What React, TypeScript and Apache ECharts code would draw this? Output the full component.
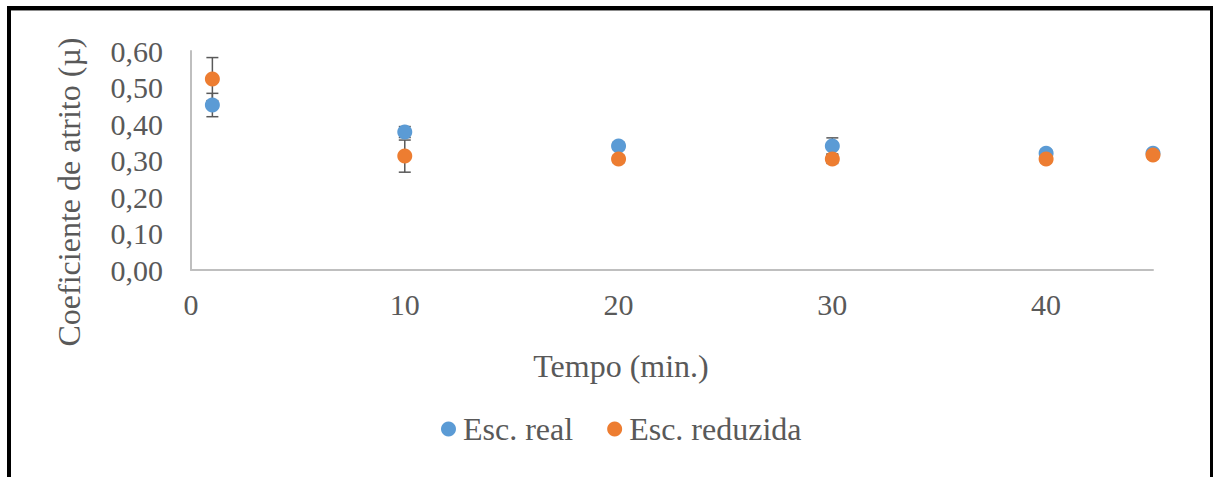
import React, { useEffect, useRef } from "react";
import * as echarts from "echarts";

const tempo = [1, 10, 20, 30, 40, 45];
const escReal = [0.452, 0.378, 0.34, 0.34, 0.32, 0.32];
const escRealErr = [0.032, 0.015, 0.01, 0.022, 0.01, 0.008];
const escReduzida = [0.523, 0.312, 0.304, 0.304, 0.304, 0.315];
const escReduzidaErr = [0.059, 0.044, 0.01, 0.012, 0.01, 0.01];
const seriesNames = ["Esc. real", "Esc. reduzida"];
const xTitle = "Tempo (min.)";
const yTitle = "Coeficiente de atrito (µ)";

const FONT = "'Liberation Serif', 'Times New Roman', serif";
const TXT = "#595959";
const BLUE = "#5b9bd5";
const ORANGE = "#ed7d31";

function errData(vals: number[], errs: number[]) {
  return tempo.map((t, i) => [t, vals[i] - errs[i], vals[i] + errs[i]]);
}

function errRender(params: any, api: any) {
  const x = api.value(0);
  const lo = api.coord([x, api.value(1)]);
  const hi = api.coord([x, api.value(2)]);
  const w = 6;
  const style = { stroke: "#595959", lineWidth: 1.5 };
  return {
    type: "group",
    children: [
      { type: "line", shape: { x1: lo[0], y1: lo[1], x2: hi[0], y2: hi[1] }, style },
      { type: "line", shape: { x1: lo[0] - w, y1: lo[1], x2: lo[0] + w, y2: lo[1] }, style },
      { type: "line", shape: { x1: hi[0] - w, y1: hi[1], x2: hi[0] + w, y2: hi[1] }, style },
    ],
  };
}

export default function App() {
  const ref = useRef<HTMLDivElement>(null);
  useEffect(() => {
    const chart = echarts.init(ref.current!, null, { renderer: "svg" });
    chart.setOption({
      animation: false,
      backgroundColor: "#ffffff",
      grid: { left: 191, right: 60, top: 51, bottom: 207, containLabel: false },
      xAxis: {
        type: "value",
        min: 0,
        max: 45,
        interval: 10,
        axisLine: { lineStyle: { color: "#bfbfbf", width: 2 } },
        axisTick: { show: false },
        splitLine: { show: false },
        axisLabel: {
          showMaxLabel: false,
          margin: 19,
          color: TXT,
          fontFamily: FONT,
          fontSize: 30,
        },
      },
      yAxis: {
        type: "value",
        min: 0,
        max: 0.6,
        interval: 0.1,
        axisLine: { show: true, lineStyle: { color: "#bfbfbf", width: 2 } },
        axisTick: { show: false },
        splitLine: { show: false },
        axisLabel: {
          margin: 28,
          color: TXT,
          fontFamily: FONT,
          fontSize: 30,
          formatter: (v: number) => v.toFixed(2).replace(".", ","),
        },
      },
      legend: {
        left: 436,
        top: 408,
        itemWidth: 15,
        itemHeight: 15,
        itemGap: 34,
        icon: "circle",
        textStyle: { color: TXT, fontFamily: FONT, fontSize: 32, padding: [0, 0, 0, 2] },
        data: seriesNames,
      },
      graphic: [
        { type: "rect", shape: { x: 7, y: 6, width: 1206, height: 4 }, style: { fill: "#000" } },
        { type: "rect", shape: { x: 11, y: 10, width: 1199, height: 1 }, style: { fill: "#8c8c8c" } },
        { type: "rect", shape: { x: 7, y: 6, width: 4, height: 471 }, style: { fill: "#000" } },
        { type: "rect", shape: { x: 1210, y: 6, width: 3, height: 471 }, style: { fill: "#000" } },
        {
          type: "text",
          x: 69,
          y: 192,
          rotation: Math.PI / 2,
          style: {
            text: yTitle,
            fill: TXT,
            font: `32px ${FONT}`,
            align: "center",
            verticalAlign: "middle",
          },
        },
        {
          type: "text",
          x: 621,
          y: 366,
          style: {
            text: xTitle,
            fill: TXT,
            font: `32px ${FONT}`,
            align: "center",
            verticalAlign: "middle",
          },
        },
      ],
      series: [
        {
          type: "custom",
          name: "errReal",
          renderItem: errRender,
          data: errData(escReal, escRealErr),
          z: 1,
          silent: true,
        },
        {
          type: "custom",
          name: "errRed",
          renderItem: errRender,
          data: errData(escReduzida, escReduzidaErr),
          z: 1,
          silent: true,
        },
        {
          type: "scatter",
          name: seriesNames[0],
          symbol: "circle",
          symbolSize: 15,
          itemStyle: { color: BLUE, opacity: 1 },
          data: tempo.map((t, i) => [t, escReal[i]]),
          z: 3,
        },
        {
          type: "scatter",
          name: seriesNames[1],
          symbol: "circle",
          symbolSize: 15,
          itemStyle: { color: ORANGE, opacity: 1 },
          data: tempo.map((t, i) => [t, escReduzida[i]]),
          z: 4,
        },
      ],
    });
    return () => chart.dispose();
  }, []);
  return (
    <div
      ref={ref}
      style={{ position: "absolute", left: 0, top: 0, width: 1213, height: 477 }}
    />
  );
}
